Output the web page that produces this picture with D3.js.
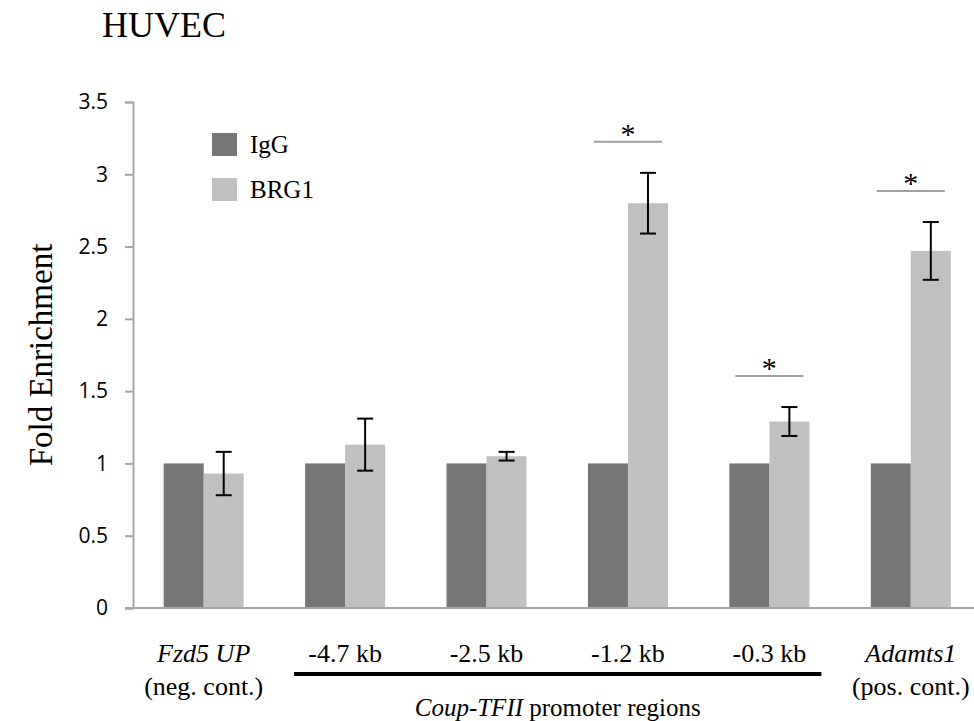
<!DOCTYPE html>
<html>
<head>
<meta charset="utf-8">
<script src="https://cdn.jsdelivr.net/npm/d3@7"></script>
<style>
  html, body { margin: 0; padding: 0; background: #fff; }
  svg { display: block; }
</style>
</head>
<body>
<div id="chart"></div>
<script>
// HUVEC ChIP — fold enrichment per region
var categories = ['Fzd5 UP', '-4.7 kb', '-2.5 kb', '-1.2 kb', '-0.3 kb', 'Adamts1'];
var subLabels = ['(neg. cont.)', '', '', '', '', '(pos. cont.)'];
var italicCats = [true, false, false, false, false, true];
var series = ['IgG', 'BRG1'];
var iggValues = [1, 1, 1, 1, 1, 1];
var brg1Values = [0.93, 1.13, 1.05, 2.80, 1.29, 2.47];
var brg1Errors = [0.15, 0.18, 0.03, 0.21, 0.10, 0.20];
var significant = [false, false, false, true, true, true];
var yTicks = [0, 0.5, 1, 1.5, 2, 2.5, 3, 3.5];

var width = 974, height = 721;
var SERIF = "'Liberation Serif', 'DejaVu Serif', serif";
var colors = { IgG: '#767676', BRG1: '#c0c0c0' };

var svg = d3.select('#chart').append('svg')
  .attr('width', width)
  .attr('height', height);

var x0 = d3.scaleBand()
  .domain(categories)
  .range([133, 981.5])
  .paddingInner(0.434)
  .paddingOuter(0.217);

var x1 = d3.scaleBand()
  .domain(series)
  .range([0, x0.bandwidth()]);

var y = d3.scaleLinear()
  .domain([0, 3.5])
  .range([608, 102]);

var rows = categories.map(function (c, i) {
  return { cat: c, IgG: iggValues[i], BRG1: brg1Values[i], err: brg1Errors[i], sig: significant[i] };
});

// y axis
var yAxis = svg.append('g')
  .attr('transform', 'translate(133,0)')
  .call(d3.axisLeft(y).tickValues(yTicks).tickSize(8).tickPadding(17)
    .tickFormat(function (d) { return String(d); }));
yAxis.select('.domain').attr('stroke', '#a6a6a6').attr('stroke-width', 2);
yAxis.selectAll('.tick line').attr('stroke', '#a6a6a6').attr('stroke-width', 2);
yAxis.selectAll('.tick text')
  .attr('fill', '#000')
  .style('font-family', "'Open Sans', sans-serif")
  .style('font-size', '21px');

// bars
var groups = svg.append('g').selectAll('g')
  .data(rows)
  .join('g')
    .attr('transform', function (d) { return 'translate(' + x0(d.cat) + ',0)'; });

groups.selectAll('rect')
  .data(function (d) { return series.map(function (s) { return { key: s, value: d[s] }; }); })
  .join('rect')
    .attr('x', function (d) { return x1(d.key); })
    .attr('y', function (d) { return y(d.value); })
    .attr('width', x1.bandwidth())
    .attr('height', function (d) { return y(0) - y(d.value); })
    .attr('fill', function (d) { return colors[d.key]; });

// x axis line
var xAxis = svg.append('g')
  .attr('transform', 'translate(0,' + y(0) + ')')
  .call(d3.axisBottom(x0).tickSize(0).tickFormat(''));
xAxis.select('.domain')
  .attr('d', 'M125,0H' + width)
  .attr('stroke', '#a6a6a6').attr('stroke-width', 2);

// error bars on BRG1
var errG = groups.append('g')
  .attr('stroke', '#000')
  .attr('stroke-width', 2);
var errX = x1('BRG1') + x1.bandwidth() / 2;
errG.append('line')
  .attr('x1', errX).attr('x2', errX)
  .attr('y1', function (d) { return y(d.BRG1 + d.err); })
  .attr('y2', function (d) { return y(d.BRG1 - d.err); });
errG.append('line')
  .attr('x1', errX - 8).attr('x2', errX + 8)
  .attr('y1', function (d) { return y(d.BRG1 + d.err); })
  .attr('y2', function (d) { return y(d.BRG1 + d.err); });
errG.append('line')
  .attr('x1', errX - 8).attr('x2', errX + 8)
  .attr('y1', function (d) { return y(d.BRG1 - d.err); })
  .attr('y2', function (d) { return y(d.BRG1 - d.err); });

// significance marks
var sigG = groups.filter(function (d) { return d.sig; }).append('g');
var mid = x0.bandwidth() / 2;
sigG.append('line')
  .attr('x1', mid - 34).attr('x2', mid + 34)
  .attr('y1', function (d) { return y(d.BRG1 + d.err) - 31; })
  .attr('y2', function (d) { return y(d.BRG1 + d.err) - 31; })
  .attr('stroke', '#a0a0a0')
  .attr('stroke-width', 2);
sigG.append('text')
  .attr('x', mid)
  .attr('y', function (d) { return y(d.BRG1 + d.err) - 29; })
  .attr('text-anchor', 'middle')
  .style('font-family', SERIF)
  .style('font-size', '30px')
  .text('*');

// category labels
var labels = svg.append('g')
  .style('font-family', SERIF)
  .style('font-size', '26px')
  .attr('fill', '#000');
labels.selectAll('text.cat')
  .data(rows)
  .join('text')
    .attr('class', 'cat')
    .attr('x', function (d) { return x0(d.cat) + mid; })
    .attr('y', 662)
    .attr('text-anchor', 'middle')
    .style('font-family', SERIF)
    .style('font-style', function (d, i) { return italicCats[i] ? 'italic' : 'normal'; })
    .text(function (d) { return d.cat; });
labels.selectAll('text.sub')
  .data(rows.filter(function (d, i) { return subLabels[i]; }))
  .join('text')
    .attr('class', 'sub')
    .attr('x', function (d) { return x0(d.cat) + mid; })
    .attr('y', 695)
    .attr('text-anchor', 'middle')
    .style('font-family', SERIF)
    .text(function (d) { return subLabels[categories.indexOf(d.cat)]; });

// bracket for Coup-TFII promoter regions
var bx1 = x0('-4.7 kb') - 11;
var bx2 = x0('-0.3 kb') + x0.bandwidth() + 12;
svg.append('line')
  .attr('x1', bx1).attr('x2', bx2)
  .attr('y1', 674).attr('y2', 674)
  .attr('stroke', '#000')
  .attr('stroke-width', 4);
var coup = labels.append('text')
  .attr('x', (bx1 + bx2) / 2)
  .attr('y', 716)
  .attr('text-anchor', 'middle')
  .style('font-family', SERIF)
  .style('font-size', '25px');
coup.append('tspan').style('font-style', 'italic').text('Coup-TFII');
coup.append('tspan').text(' promoter regions');

// y title
svg.append('text')
  .attr('transform', 'translate(52,355) rotate(-90)')
  .attr('text-anchor', 'middle')
  .style('font-family', SERIF)
  .style('font-size', '33px')
  .text('Fold Enrichment');

// chart title
svg.append('text')
  .attr('x', 102)
  .attr('y', 37)
  .style('font-family', SERIF)
  .style('font-size', '36px')
  .text('HUVEC');

// legend
var legend = svg.append('g').attr('transform', 'translate(212,133)');
var li = legend.selectAll('g')
  .data(series)
  .join('g')
    .attr('transform', function (d, i) { return 'translate(0,' + (i * 45) + ')'; });
li.append('rect')
  .attr('width', 25)
  .attr('height', 23)
  .attr('fill', function (d) { return colors[d]; });
li.append('text')
  .attr('x', 38)
  .attr('y', 20)
  .style('font-family', SERIF)
  .style('font-size', '25px')
  .text(function (d) { return d; });
</script>
</body>
</html>
